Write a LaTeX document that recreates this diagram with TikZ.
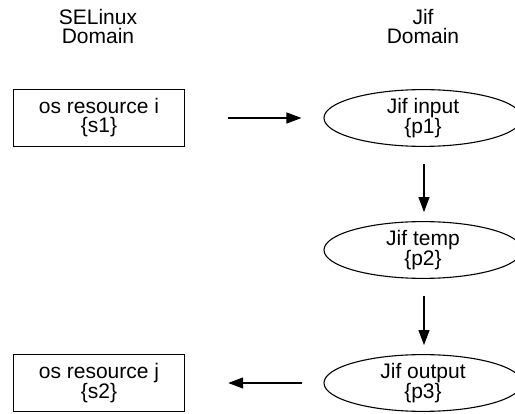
\documentclass[tikz,border=0pt]{standalone}
\usepackage{fontspec}
\setmainfont{Liberation Sans}
\usetikzlibrary{arrows.meta,shapes.geometric}

\tikzset{
	res/.style={draw, line width=1.4pt, minimum width=171pt, minimum height=57pt, align=center, inner sep=0pt},
	lab/.style={draw, ellipse, line width=1.1pt, minimum width=198pt, minimum height=53pt, align=center, inner sep=0pt},
	flow/.style={line width=1.2pt, -{Triangle[length=15pt,width=11pt]}}
}

\begin{document}
\begin{tikzpicture}[x=1pt, y=1pt, font=\fontsize{21}{19}\selectfont]
	\useasboundingbox (0,0) rectangle (515,-414);
	\node[align=center] (seldom) at (98,-26) {SELinux\\Domain};
	\node[align=center] (jifdom) at (423,-26) {Jif\\Domain};
	%
	\node[res] (osi) at (99,-118) {os resource i\\\{s1\}};
	\node[res] (osj) at (99,-383) {os resource j\\\{s2\}};
	\node[lab] (jin) at (423,-118) {Jif input\\\{p1\}};
	\node[lab, minimum height=56pt] (jtmp) at (423,-250) {Jif temp\\\{p2\}};
	\node[lab, minimum height=54pt] (jout) at (423,-383) {Jif output\\\{p3\}};
	%
	\draw[flow, shorten <=43pt, shorten >=22pt] (osi) -- (jin);
	\draw[flow, shorten <=17pt, shorten >=9pt] ([xshift=1pt]jin.south) -- ([xshift=1pt]jtmp.north);
	\draw[flow, shorten <=17pt, shorten >=9pt] ([xshift=1pt]jtmp.south) -- ([xshift=1pt]jout.north);
	\draw[flow, shorten <=21pt, shorten >=43pt] (jout) -- (osj);
\end{tikzpicture}
\end{document}
